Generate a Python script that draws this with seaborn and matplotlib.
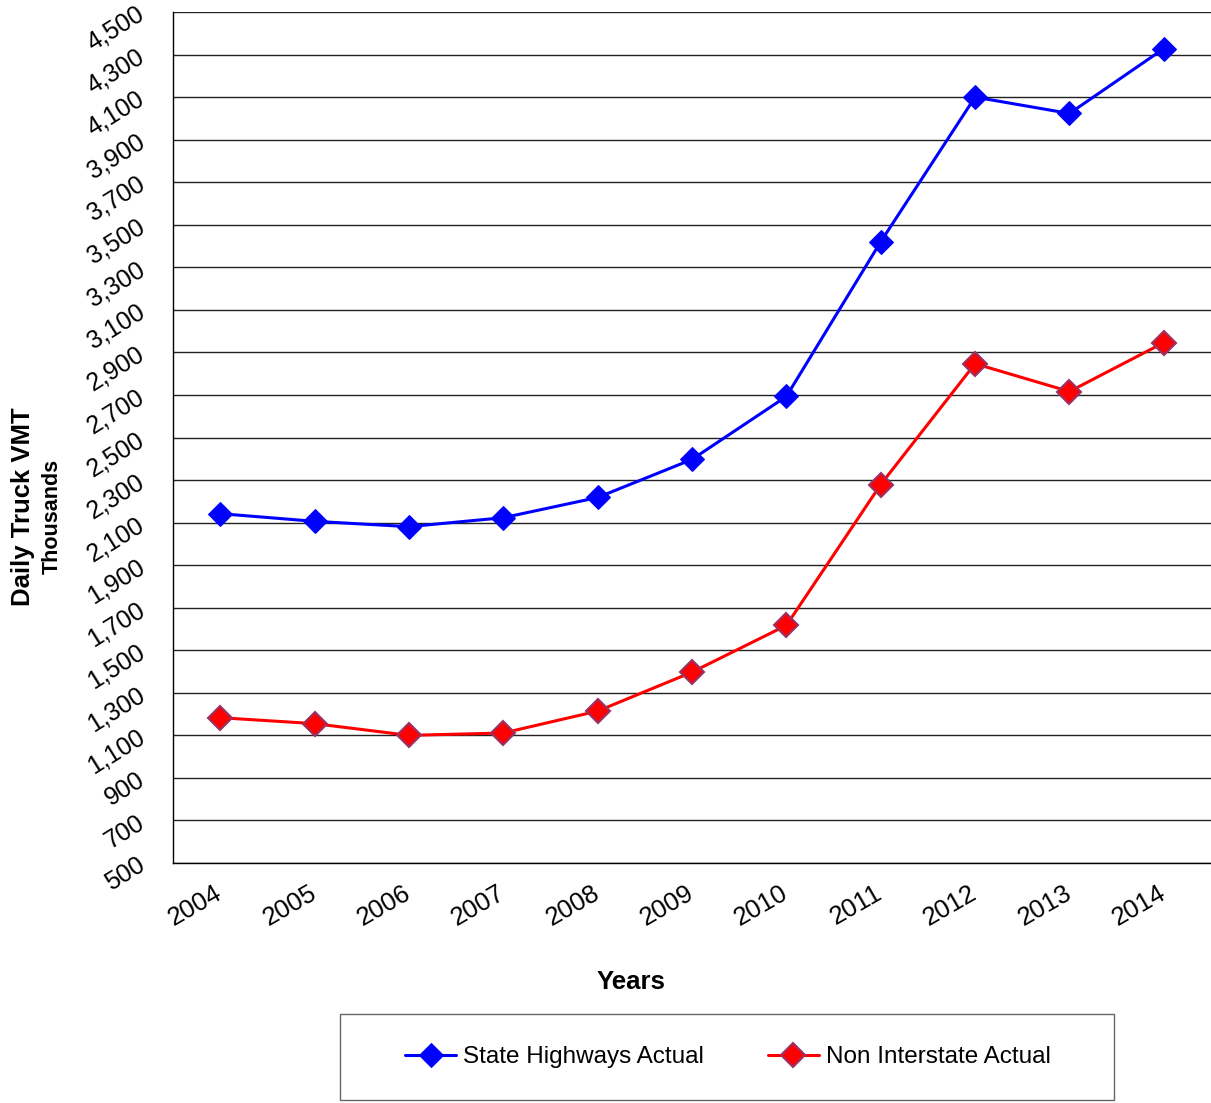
import pandas as pd
import matplotlib
matplotlib.use('Agg')
import matplotlib.pyplot as plt
import matplotlib.ticker as mticker
import matplotlib.transforms as mtransforms
from matplotlib.patches import Rectangle
import seaborn as sns

# Datos (miles)
years = ['2004', '2005', '2006', '2007', '2008', '2009', '2010', '2011', '2012', '2013', '2014']
state_highways = [2142, 2106, 2081, 2123, 2218, 2397, 2693, 3420, 4100, 4023, 4328]
non_interstate = [1183, 1155, 1100, 1111, 1214, 1397, 1617, 2279, 2847, 2716, 2946]
series_names = ['State Highways Actual', 'Non Interstate Actual']
y_ticks = list(range(500, 4501, 200))

df = pd.DataFrame({
    'Year': years * 2,
    'VMT': state_highways + non_interstate,
    'Serie': [series_names[0]] * len(years) + [series_names[1]] * len(years),
})

sns.set_style('white')
plt.rcParams['font.family'] = ['Liberation Sans', 'DejaVu Sans']
plt.rcParams['text.color'] = 'black'
plt.rcParams['xtick.color'] = 'black'
plt.rcParams['ytick.color'] = 'black'

fig = plt.figure(figsize=(12.11, 11.03), dpi=100)
ax = fig.add_axes([173 / 1211, 1 - 863 / 1103, 1 - 173 / 1211, (863 - 12) / 1103])

sns.lineplot(data=df, x='Year', y='VMT', hue='Serie', style='Serie',
             palette={series_names[0]: '#0000ff', series_names[1]: '#ff0000'},
             markers={series_names[0]: 'D', series_names[1]: 'D'},
             dashes=False, linewidth=2.2, markersize=12, legend=False, ax=ax)

# bordes de los marcadores
lines = ax.get_lines()
lines[0].set_markeredgecolor('#0000ff')
lines[1].set_markeredgecolor('#993366')
lines[1].set_markeredgewidth(1.5)

ax.set_xlim(-0.5, len(years) - 0.5)
ax.set_ylim(500, 4500)
ax.set_yticks(y_ticks)
ax.yaxis.set_major_formatter(mticker.StrMethodFormatter('{x:,.0f}'))
ax.grid(axis='y', color='#222222', linewidth=1)
ax.set_axisbelow(True)

ax.set_xticks(range(len(years)))
ax.set_xticklabels(years)
ax.set_xticks([i - 0.5 for i in range(len(years) + 1)], minor=True)
ax.tick_params(axis='x', which='major', length=0, labelsize=18.5, pad=13)
ax.tick_params(axis='x', which='minor', length=6, width=1, color='black', direction='out')
ax.tick_params(axis='y', length=5, width=1, color='#666666', direction='out', labelsize=18, pad=17)
shift = mtransforms.ScaledTranslation(-6 / 100, 0, fig.dpi_scale_trans)
for lbl in ax.get_xticklabels():
    lbl.set_rotation(30)
    lbl.set_rotation_mode('anchor')
    lbl.set_ha('right')
    lbl.set_va('top')
    lbl.set_transform(lbl.get_transform() + shift)
for lbl in ax.get_yticklabels():
    lbl.set_rotation(32)
    lbl.set_rotation_mode('anchor')
    lbl.set_ha('right')
    lbl.set_va('center')

for s in ['top', 'right']:
    ax.spines[s].set_visible(False)
for s in ['left', 'bottom']:
    ax.spines[s].set_color('black')
    ax.spines[s].set_linewidth(1)

ax.set_xlabel('')
ax.set_ylabel('')
fig.text(631 / 1211, 1 - 982 / 1103, 'Years', ha='center', va='center',
         fontsize=18.5, fontweight='bold')
fig.text(23 / 1211, 1 - 507 / 1103, 'Daily Truck VMT', ha='center', va='center',
         rotation=90, fontsize=18.5, fontweight='bold')
fig.text(52 / 1211, 1 - 516 / 1103, 'Thousands', ha='center', va='center',
         rotation=90, fontsize=15.5, fontweight='bold')

# Leyenda con recuadro
fig.add_artist(Rectangle((340 / 1211, 1 - 1100 / 1103), 774 / 1211, 86 / 1103,
                         transform=fig.transFigure, fill=False,
                         edgecolor='#666666', linewidth=1))
leg = fig.legend(lines, series_names, loc='center left', ncol=2,
                 bbox_to_anchor=(393 / 1211, 1 - 1057 / 1103),
                 frameon=False, fontsize=17.5, handlelength=2.1, borderpad=0,
                 handletextpad=0.3, columnspacing=2.6)

fig.savefig('out.png', dpi=100)
